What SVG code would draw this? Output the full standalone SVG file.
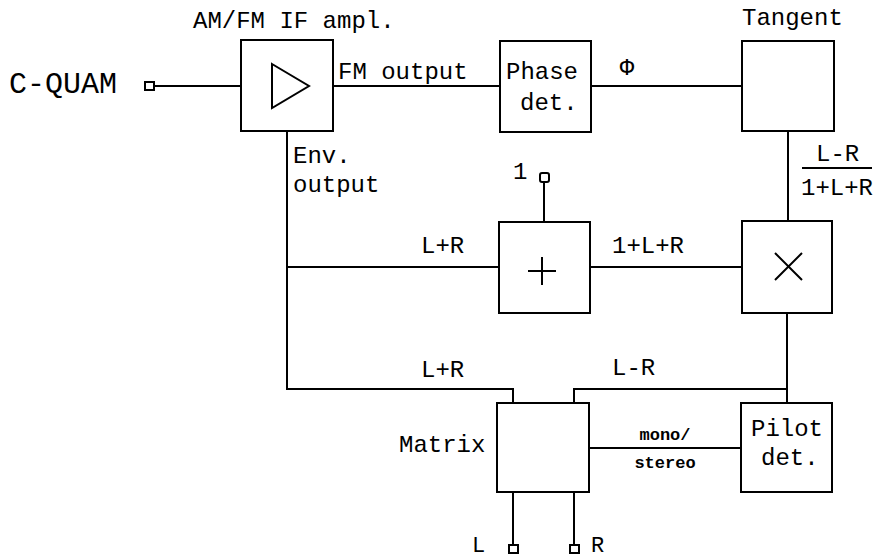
<svg xmlns="http://www.w3.org/2000/svg" width="876" height="559" viewBox="0 0 876 559">
<style>
.box{fill:#fff;stroke:#000;stroke-width:2}
.ln{fill:none;stroke:#000;stroke-width:2}
.term{fill:#fff;stroke:#000;stroke-width:2}
text{font-family:"Liberation Mono","DejaVu Sans Mono",monospace;font-size:24px;fill:#000}
.sm{font-size:17px;font-weight:bold}
.big{font-size:30px}
.io{font-size:22px}
</style>
<rect width="876" height="559" fill="#fff"/>
<g id="connectors">
<path class="ln" d="M155 86H241"/>
<path class="ln" d="M333 86H500"/>
<path class="ln" d="M591 86H742"/>
<path class="ln" d="M788 131V221"/>
<path class="ln" d="M287 131V389H513V403"/>
<path class="ln" d="M287 267H499"/>
<path class="ln" d="M544 182V222"/>
<path class="ln" d="M590 267H742"/>
<path class="ln" d="M787 313V403"/>
<path class="ln" d="M787 389H574V403"/>
<path class="ln" d="M589 448H741"/>
<path class="ln" d="M513 492V545"/>
<path class="ln" d="M574 492V545"/>
<text x="338" y="79">FM output</text>
<text x="627" y="75" text-anchor="middle">Φ</text>
<text x="293" y="163">Env.</text>
<text x="293" y="192">output</text>
<text x="421" y="253">L+R</text>
<text x="612" y="253">1+L+R</text>
<text x="421" y="377">L+R</text>
<text x="612" y="375">L-R</text>
<text x="816" y="161">L-R</text>
<path class="ln" d="M802 168H872"/>
<text x="801" y="195">1+L+R</text>
<text class="sm" x="665" y="440" text-anchor="middle">mono/</text>
<text class="sm" x="665" y="468" text-anchor="middle">stereo</text>
</g>
<g id="cquam">
<text class="big" x="9" y="93">C-QUAM</text>
<rect class="term" x="145" y="82" width="9" height="8"/>
</g>
<g id="amp">
<rect class="box" x="241" y="40" width="92" height="91"/>
<path class="ln" d="M272 64L309 86L272 108Z"/>
<text x="193" y="28">AM/FM IF ampl.</text>
</g>
<g id="phase">
<rect class="box" x="500" y="41" width="91" height="91"/>
<text x="506" y="79">Phase</text>
<text x="520" y="110">det.</text>
</g>
<g id="tangent">
<rect class="box" x="742" y="41" width="92" height="90"/>
<text x="742" y="25">Tangent</text>
</g>
<g id="one">
<text x="513" y="179">1</text>
<rect class="term" x="540" y="173" width="9" height="9" rx="2"/>
</g>
<g id="adder">
<rect class="box" x="499" y="222" width="91" height="91"/>
<path class="ln" d="M528 271H556M542 257V285"/>
</g>
<g id="multiplier">
<rect class="box" x="742" y="221" width="90" height="92"/>
<path class="ln" d="M775 253L802 280M802 253L775 280"/>
</g>
<g id="matrix">
<rect class="box" x="497" y="403" width="92" height="89"/>
<text x="399" y="452">Matrix</text>
</g>
<g id="pilot">
<rect class="box" x="741" y="403" width="91" height="89"/>
<text x="751" y="436">Pilot</text>
<text x="761" y="465">det.</text>
</g>
<g id="outL">
<rect class="term" x="509" y="545" width="9" height="8"/>
<text class="io" x="472" y="552">L</text>
</g>
<g id="outR">
<rect class="term" x="570" y="545" width="9" height="8"/>
<text class="io" x="591" y="552">R</text>
</g>
</svg>
